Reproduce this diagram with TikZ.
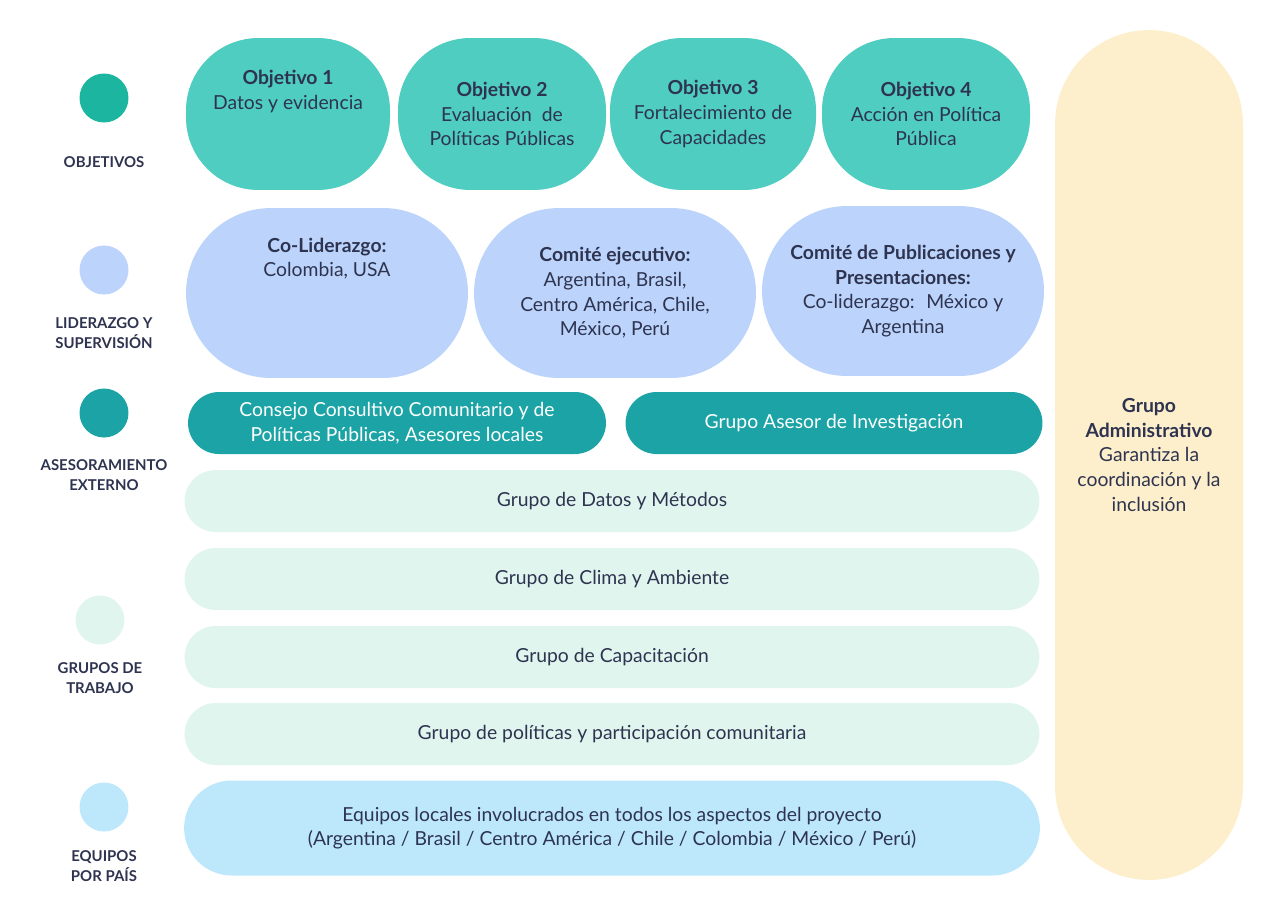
\documentclass[tikz,border=0pt]{standalone}
\usepackage{fontspec}
\setmainfont{Lato}
\definecolor{ink}{HTML}{2E3450}
\definecolor{objfill}{HTML}{4ECDC0}
\definecolor{objdot}{HTML}{1BB5A0}
\definecolor{lidfill}{HTML}{BCD4FC}
\definecolor{asefill}{HTML}{1BA3A5}
\definecolor{grpfill}{HTML}{E1F5EF}
\definecolor{eqfill}{HTML}{BDE8FC}
\definecolor{admfill}{HTML}{FDEFCC}
\begin{document}
\begin{tikzpicture}[x=0.02cm,y=-0.02cm,
    every node/.style={text=ink,align=center,font=\fontsize{11}{14}\selectfont},
    pill/.style={rectangle,inner sep=0pt},
    side label/.style={font=\fontsize{8.5}{11}\selectfont\bfseries},
    dot/.style={circle,minimum size=0.98cm,inner sep=0pt}]
  \useasboundingbox (0,0) rectangle (1280,900);

  % left column
  \node[dot,fill=objdot] (d1) at (104,98) {};
  \node[dot,fill=lidfill] (d2) at (104,270) {};
  \node[dot,fill=asefill] (d3) at (104,413) {};
  \node[dot,fill=grpfill] (d4) at (100,620) {};
  \node[dot,fill=eqfill] (d5) at (104,807) {};
  \node[side label] (l1) at (104,162) {OBJETIVOS};
  \node[side label] (l2) at (104,333) {LIDERAZGO Y\\SUPERVISIÓN};
  \node[side label] (l3) at (104,475) {ASESORAMIENTO\\EXTERNO};
  \node[side label] (l4) at (100,678) {GRUPOS DE\\TRABAJO};
  \node[side label] (l5) at (104,866) {EQUIPOS\\POR PAÍS};

  % objectives
  \foreach \x/\w/\t [count=\i] in {288/204/{\textbf{Objetivo 1}\\Datos y evidencia\\[1.2em]},
      502/208/{\textbf{Objetivo 2}\\Evaluación~ de\\Políticas Públicas},
      713/206/{\textbf{Objetivo 3}\\Fortalecimiento de\\Capacidades},
      926/208/{\textbf{Objetivo 4}\\Acción en Política\\Pública}}
    \node[pill,fill=objfill,minimum width=\w*0.02cm,minimum height=3.04cm,rounded corners=1.45cm] (o\i) at (\x,114) {\t};

  % leadership
  \node[pill,fill=lidfill,minimum width=5.64cm,minimum height=3.4cm,rounded corners=1.7cm] (lid1) at (327,293) {\textbf{Co-Liderazgo:}\\Colombia, USA\\[2.4em]};
  \node[pill,fill=lidfill,minimum width=5.64cm,minimum height=3.4cm,rounded corners=1.7cm] (lid2) at (615,293) {\textbf{Comité ejecutivo:}\\Argentina, Brasil,\\Centro América, Chile,\\México, Perú};
  \node[pill,fill=lidfill,minimum width=5.64cm,minimum height=3.4cm,rounded corners=1.7cm] (lid3) at (903,291) {\textbf{Comité de Publicaciones y}\\\textbf{Presentaciones:}\\Co-liderazgo:~ México y\\Argentina};

  % advisory
  \node[pill,fill=asefill,text=white,minimum width=8.36cm,minimum height=1.24cm,rounded corners=0.62cm] (as1) at (397,423) {Consejo Consultivo Comunitario y de\\Políticas Públicas, Asesores locales};
  \node[pill,fill=asefill,text=white,minimum width=8.34cm,minimum height=1.24cm,rounded corners=0.62cm] (as2) at (834,423) {Grupo Asesor de Investigación};

  % working groups
  \foreach \y/\t [count=\i] in {501/Grupo de Datos y Métodos,579/Grupo de Clima y Ambiente,
      657/Grupo de Capacitación,734/Grupo de políticas y participación comunitaria}
    \node[pill,fill=grpfill,minimum width=17.1cm,minimum height=1.24cm,rounded corners=0.62cm] (g\i) at (612,\y) {\t};

  % country teams
  \node[pill,fill=eqfill,minimum width=17.12cm,minimum height=1.9cm,rounded corners=0.95cm] (eq) at (612,828) {Equipos locales involucrados en todos los aspectos del proyecto\\(Argentina / Brasil / Centro América / Chile / Colombia / México / Perú)};

  % admin
  \node[pill,fill=admfill,minimum width=3.76cm,minimum height=17cm,rounded corners=1.88cm] (adm) at (1149,455) {\textbf{Grupo}\\\textbf{Administrativo}\\Garantiza la\\coordinación y la\\inclusión};
\end{tikzpicture}
\end{document}
